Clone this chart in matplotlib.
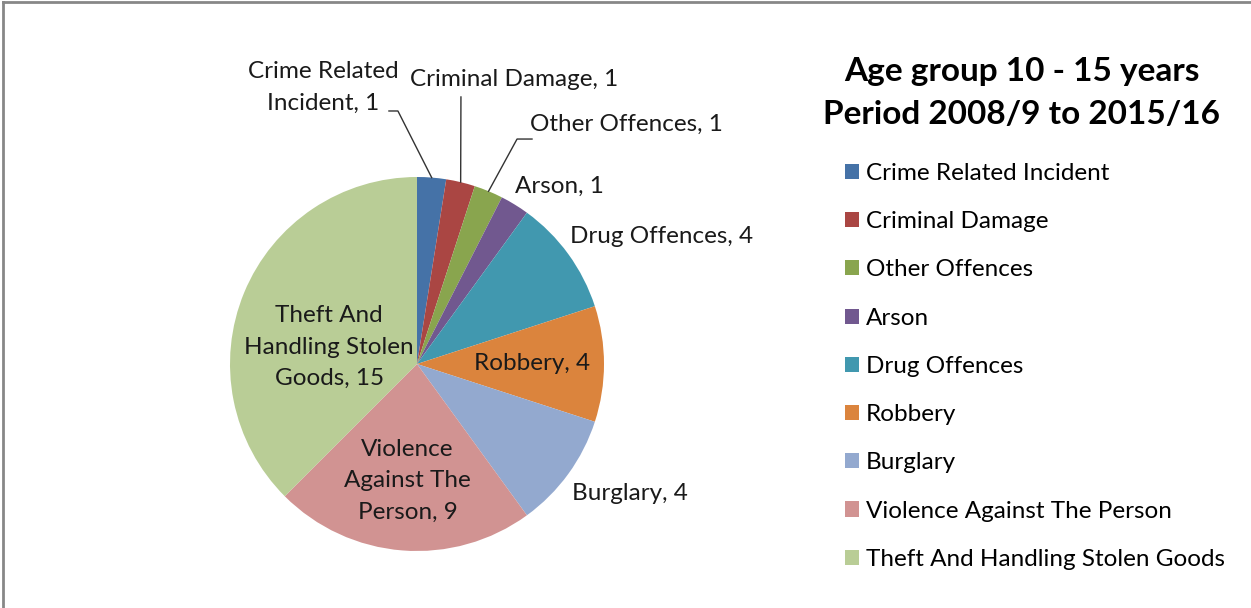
import matplotlib
matplotlib.use("Agg")
import matplotlib.pyplot as plt
import numpy as np

categories = ["Crime Related Incident", "Criminal Damage", "Other Offences", "Arson",
              "Drug Offences", "Robbery", "Burglary", "Violence Against The Person",
              "Theft And Handling Stolen Goods"]
counts = [1, 1, 1, 1, 4, 4, 4, 9, 15]
slice_labels = ["Crime Related\nIncident, 1", "Criminal Damage, 1", "Other Offences, 1",
                "Arson, 1", "Drug Offences, 4", "Robbery, 4", "Burglary, 4",
                "Violence\nAgainst The\nPerson, 9", "Theft And\nHandling Stolen\nGoods, 15"]
colors = ["#4572A7", "#AA4643", "#89A54E", "#71588F", "#4198AF",
          "#DB843D", "#93A9CF", "#D19392", "#B9CD96"]

# label centres (data units, pie radius = 1)
label_pos = [(-0.50, 1.48), (0.52, 1.52), (1.12, 1.28), (0.76, 0.95), (1.31, 0.68),
             (0.615, 0.0), (1.14, -0.695), (-0.05, -0.625), (-0.47, 0.09)]
# leader line elbows for the three small slices
elbows = {0: [(-0.102, 1.353), (-0.150, 1.353)],
          1: [(0.235, 1.428)],
          2: [(0.535, 1.203), (0.615, 1.203)]}

plt.rcParams["font.family"] = ["Lato", "DejaVu Sans"]
fig = plt.figure(figsize=(12.51, 6.08), dpi=100)
ax = fig.add_axes([230 / 1251, 57 / 608, 374 / 1251, 374 / 608])

wedges, _ = ax.pie(counts, colors=colors, startangle=90, counterclock=False,
                   wedgeprops=dict(edgecolor="none"))
ax.set_xlim(-1, 1)
ax.set_ylim(-1, 1)
ax.set_aspect("equal")

fs = 17.5
for i, (w, lab) in enumerate(zip(wedges, slice_labels)):
    x, y = label_pos[i]
    ax.text(x, y, lab, ha="center", va="center", fontsize=fs, color="#1a1a1a",
            linespacing=1.62)
    if i in elbows:
        mid = np.deg2rad((w.theta1 + w.theta2) / 2)
        pts = [(np.cos(mid), np.sin(mid))] + elbows[i]
        xs, ys = zip(*pts)
        ax.plot(xs, ys, color="#333333", lw=1.0, clip_on=False)

fig.text(1022 / 1251, 1 - 93 / 608, "Age group 10 - 15 years\nPeriod 2008/9 to 2015/16",
         ha="center", va="center", fontsize=24, fontweight="bold", linespacing=1.575)

fig.legend(wedges, categories, loc="upper left", bbox_to_anchor=(845 / 1251, 1 - 163 / 608),
           frameon=False, fontsize=fs, handlelength=0.58, handleheight=0.58,
           handletextpad=0.29, labelspacing=1.12, borderpad=0, borderaxespad=0)

# frame on top and left edges
fig.add_artist(plt.Line2D([3 / 1251, 3 / 1251], [0, 1 - 2 / 608], color="#878787", lw=2,
                          transform=fig.transFigure))
fig.add_artist(plt.Line2D([3 / 1251, 1], [1 - 2 / 608, 1 - 2 / 608], color="#878787", lw=2,
                          transform=fig.transFigure))

fig.savefig("out.png", dpi=100)
